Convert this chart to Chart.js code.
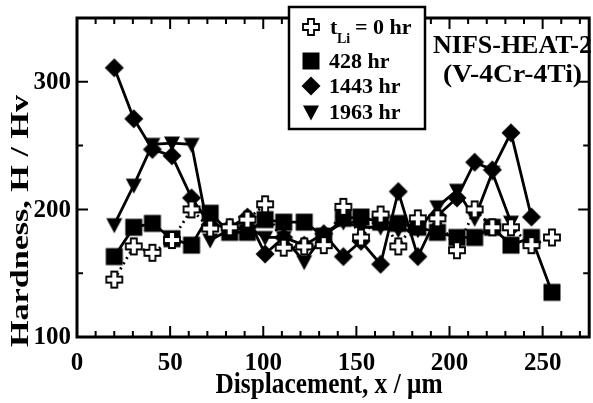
<!DOCTYPE html>
<html>
<head>
<meta charset="utf-8">
<script src="https://cdn.jsdelivr.net/npm/chart.js@4"></script>
<style>
  html, body { margin: 0; padding: 0; background: #fff; overflow: hidden; }
  #wrap { width: 600px; height: 403px; }
</style>
</head>
<body>
<div id="wrap"><canvas id="hardnessChart" width="600" height="403"></canvas></div>
<script>
// measured displacement of each indent (um)
const xPositions = [20, 30.5, 40.5, 51, 61.5, 71.5, 82, 91.5, 101, 111, 122, 132.5,
                    143, 152.5, 163, 172.5, 183, 193.5, 204, 213.5, 223, 233, 244, 255];

// hardness Hv for each exposure time
const hv0    = [145, 171, 166, 176, 200, 185, 186, 192, 204, 170, 171, 172,
                202, 178, 196, 171, 193, 193, 168, 200, 186, 186, 172, 178];
const hv428  = [163, 186, 189, 177, 172, 197, 182, 182, 192, 190, 190, 179,
                193, 194, 190, 189, 186, 182, 178, 178, 186, 172, 178, 135];
const hv1443 = [311, 271, 247, 242, 209, 188, 186, 194, 165, 178, 172, 181,
                163, 175, 157, 214, 163, 195, 209, 237, 231, 260, 194];
const hv1963 = [188, 219, 251, 252, 251, 176, 184, 186, 178, 178, 159, 180,
                190, 186, 186, 184, 184, 202, 215, 193, 229, 190];

const legendLabels = ['= 0 hr', '428 hr', '1443 hr', '1963 hr'];
const xTickLabels = [0, 50, 100, 150, 200, 250];
const yTickLabels = [100, 200, 300];

const FONT = '"Liberation Serif", "Times New Roman", serif';

function toPoints(values) {
  return values.map((v, i) => ({ x: xPositions[i], y: v }));
}

// marker drawn once on a small canvas and handed to Chart.js as pointStyle
function makeMarker(kind) {
  const c = document.createElement('canvas');
  c.width = 24; c.height = 24;
  const g = c.getContext('2d');
  g.translate(12, 12);
  g.fillStyle = '#000';
  g.beginPath();
  if (kind === 'square') {
    g.rect(-8.5, -8.5, 17, 17);
    g.fill();
  } else if (kind === 'diamond') {
    g.moveTo(0, -9.5); g.lineTo(9.5, 0); g.lineTo(0, 9.5); g.lineTo(-9.5, 0);
    g.closePath(); g.fill();
  } else if (kind === 'triangle') {
    g.moveTo(-8, -6.5); g.lineTo(8, -6.5); g.lineTo(0, 8.5);
    g.closePath(); g.fill();
  } else {
    const a = 3, L = 8;
    g.moveTo(-a, -L); g.lineTo(a, -L); g.lineTo(a, -a); g.lineTo(L, -a);
    g.lineTo(L, a); g.lineTo(a, a); g.lineTo(a, L); g.lineTo(-a, L);
    g.lineTo(-a, a); g.lineTo(-L, a); g.lineTo(-L, -a); g.lineTo(-a, -a);
    g.closePath();
    g.fillStyle = '#fff'; g.fill();
    g.lineWidth = 1.8; g.strokeStyle = '#000'; g.stroke();
  }
  return c;
}

const markers = {
  cross: makeMarker('cross'),
  square: makeMarker('square'),
  diamond: makeMarker('diamond'),
  triangle: makeMarker('triangle')
};

// text squeezed/stretched to a measured width
function fitText(ctx, text, x, y, size, targetW, align, rotate) {
  ctx.save();
  ctx.font = 'bold ' + size + 'px ' + FONT;
  const w = ctx.measureText(text).width;
  ctx.translate(x, y);
  if (rotate) ctx.rotate(-Math.PI / 2);
  ctx.scale(targetW / w, 1);
  ctx.textAlign = align;
  ctx.textBaseline = 'alphabetic';
  ctx.fillText(text, 0, 0);
  ctx.restore();
}

const framePlugin = {
  id: 'frame',
  afterDraw(chart) {
    const ctx = chart.ctx;
    const { left, right, top, bottom } = chart.chartArea;
    const xs = chart.scales.x, ys = chart.scales.y;
    ctx.save();
    ctx.strokeStyle = '#000';
    ctx.fillStyle = '#000';

    // inward ticks, all four sides
    ctx.lineWidth = 2;
    ctx.beginPath();
    for (let v = 10; v < xs.max; v += 10) {
      const px = xs.getPixelForValue(v);
      const len = v % 50 === 0 ? 11 : 6;
      ctx.moveTo(px, bottom); ctx.lineTo(px, bottom - len);
      ctx.moveTo(px, top); ctx.lineTo(px, top + len);
    }
    for (let v = 150; v < ys.max; v += 50) {
      const py = ys.getPixelForValue(v);
      const len = v % 100 === 0 ? 11 : 6;
      ctx.moveTo(left, py); ctx.lineTo(left + len, py);
      ctx.moveTo(right, py); ctx.lineTo(right - len, py);
    }
    ctx.stroke();

    ctx.lineWidth = 3;
    ctx.strokeRect(left, top, right - left, bottom - top);

    // tick labels
    ctx.font = 'bold 25px ' + FONT;
    ctx.textBaseline = 'middle';
    ctx.textAlign = 'right';
    yTickLabels.forEach(v => ctx.fillText(String(v), left - 6, ys.getPixelForValue(v) + 1));
    ctx.textAlign = 'center';
    xTickLabels.forEach(v => ctx.fillText(String(v), xs.getPixelForValue(v), bottom + 27));

    // axis titles
    fitText(ctx, 'Displacement, x / \u03bcm', 329, 393, 29, 227, 'center', false);
    fitText(ctx, 'Hardness, H / Hv', 28, 221, 25, 252, 'center', true);

    // material note
    ctx.textBaseline = 'alphabetic';
    ctx.textAlign = 'left';
    ctx.font = 'bold 26px ' + FONT;
    ctx.fillText('NIFS-HEAT-2', 433, 53);
    fitText(ctx, '(V-4Cr-4Ti)', 443, 82, 26, 139, 'left', false);

    // legend box
    ctx.fillStyle = '#fff';
    ctx.fillRect(289, 7, 136, 122);
    ctx.lineWidth = 2.5;
    ctx.strokeRect(289, 7, 136, 122);
    ctx.fillStyle = '#000';
    const icons = [markers.cross, markers.square, markers.diamond, markers.triangle];
    const rowY = [27, 61, 86, 112];
    const baseY = [34, 68, 93, 119];
    icons.forEach((m, i) => ctx.drawImage(m, 311 - m.width / 2, rowY[i] - m.height / 2));
    ctx.font = 'bold 22px ' + FONT;
    ctx.fillText('t', 330, baseY[0]);
    ctx.font = 'bold 14px ' + FONT;
    ctx.fillText('Li', 337, 43);
    ctx.font = 'bold 22px ' + FONT;
    ctx.fillText(legendLabels[0], 355, baseY[0]);
    for (let i = 1; i < 4; i++) ctx.fillText(legendLabels[i], 329, baseY[i]);
    ctx.restore();
  }
};

function series(values, marker, dashed) {
  return {
    data: toPoints(values),
    showLine: true,
    borderColor: '#000',
    borderWidth: 2.8,
    borderDash: dashed ? [2, 4] : [],
    pointStyle: marker,
    pointRadius: 8,
    pointHoverRadius: 8,
    tension: 0
  };
}

new Chart(document.getElementById('hardnessChart').getContext('2d'), {
  type: 'scatter',
  data: {
    datasets: [
      series(hv0, markers.cross, true),
      series(hv428, markers.square, false),
      series(hv1443, markers.diamond, false),
      series(hv1963, markers.triangle, false)
    ]
  },
  options: {
    responsive: false,
    animation: false,
    devicePixelRatio: 1,
    layout: { padding: { left: 77, right: 4, top: 18, bottom: 66 } },
    scales: {
      x: { type: 'linear', min: 0, max: 275, display: false },
      y: { type: 'linear', min: 100, max: 350, display: false }
    },
    plugins: {
      legend: { display: false },
      tooltip: { enabled: false }
    }
  },
  plugins: [framePlugin]
});
</script>
</body>
</html>
